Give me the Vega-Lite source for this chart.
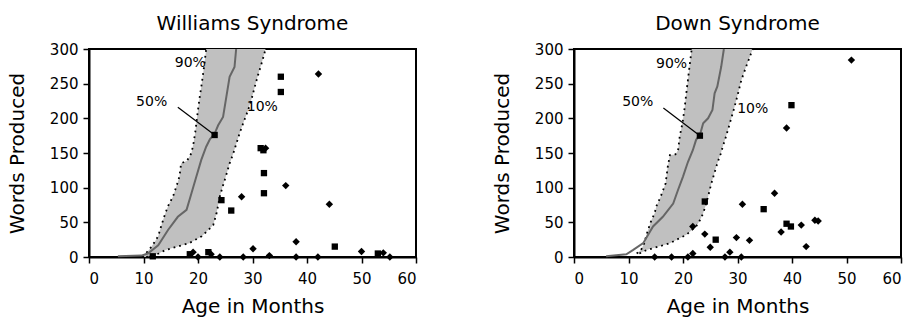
{
  "$schema": "https://vega.github.io/schema/vega-lite/v6.json",
  "background": "white",
  "padding": {"left": 6, "top": 13, "right": 8, "bottom": 4},
  "spacing": 73,
  "config": {
    "view": {"stroke": "black", "strokeWidth": 2},
    "font": "DejaVu Sans",
    "axis": {"grid": false, "domainColor": "black", "domainWidth": 2, "tickColor": "black", "tickWidth": 1.5, "tickSize": 6, "labelFont": "DejaVu Sans", "labelFontSize": 15, "labelColor": "black", "titleFont": "DejaVu Sans", "titleFontSize": 20, "titleFontWeight": "normal", "titleColor": "black", "labelPadding": 5},
    "axisX": {"titlePadding": 10, "labelPadding": 8},
    "axisY": {"titlePadding": 22},
    "title": {"font": "DejaVu Sans", "fontSize": 20, "fontWeight": "normal", "color": "black", "offset": 8}
  },
  "datasets": {
    "ws_band": [
      {"words": 0, "age": 9.8, "age2": 10.5}, {"words": 5, "age": 10.4, "age2": 12.8}, {"words": 10, "age": 11.0, "age2": 14.0},
      {"words": 20, "age": 11.9, "age2": 18.4}, {"words": 30, "age": 12.7, "age2": 20.7}, {"words": 46, "age": 13.3, "age2": 22.8},
      {"words": 63, "age": 14.0, "age2": 23.4}, {"words": 75, "age": 14.6, "age2": 23.7}, {"words": 87, "age": 15.4, "age2": 24.0},
      {"words": 101, "age": 16.0, "age2": 24.5}, {"words": 116, "age": 16.6, "age2": 25.1}, {"words": 135, "age": 16.9, "age2": 25.8},
      {"words": 139, "age": 18.0, "age2": 26.0}, {"words": 150, "age": 18.8, "age2": 26.5}, {"words": 165, "age": 19.2, "age2": 27.1},
      {"words": 180, "age": 19.5, "age2": 27.7}, {"words": 193, "age": 19.7, "age2": 28.3}, {"words": 212, "age": 20.0, "age2": 29.2},
      {"words": 230, "age": 20.3, "age2": 29.9}, {"words": 245, "age": 20.6, "age2": 30.4}, {"words": 262, "age": 20.9, "age2": 31.0},
      {"words": 280, "age": 21.2, "age2": 31.7}, {"words": 300, "age": 21.5, "age2": 32.4}
    ],
    "ws_median": [
      {"age": 5.3, "words": 1}, {"age": 9.6, "words": 2}, {"age": 10.8, "words": 5}, {"age": 12.7, "words": 17},
      {"age": 14.5, "words": 39}, {"age": 16.3, "words": 58}, {"age": 17.9, "words": 68}, {"age": 18.8, "words": 92},
      {"age": 19.7, "words": 116}, {"age": 20.6, "words": 140}, {"age": 21.5, "words": 159}, {"age": 22.2, "words": 170},
      {"age": 23.0, "words": 177}, {"age": 23.7, "words": 190}, {"age": 24.6, "words": 202}, {"age": 25.2, "words": 231},
      {"age": 25.8, "words": 260}, {"age": 26.7, "words": 274}, {"age": 27.0, "words": 300}
    ],
    "ws_labels": [
      {"age": 18.6, "words": 280, "label": "90%"}, {"age": 11.5, "words": 223, "label": "50%"}, {"age": 31.8, "words": 217, "label": "10%"}
    ],
    "ws_arrow": [{"age": 16.3, "words": 216, "age2": 23.05, "words2": 176}],
    "ws_points": [
      {"age": 23.05, "words": 176, "type": "square"},
      {"age": 11.7, "words": 1, "type": "square"}, {"age": 18.5, "words": 4, "type": "square"}, {"age": 19.1, "words": 7, "type": "diamond"},
      {"age": 20, "words": 0, "type": "diamond"}, {"age": 21.9, "words": 7, "type": "square"}, {"age": 22.4, "words": 4, "type": "diamond"},
      {"age": 24, "words": 0, "type": "diamond"}, {"age": 24.3, "words": 82, "type": "square"}, {"age": 26.1, "words": 67, "type": "square"},
      {"age": 28, "words": 87, "type": "diamond"}, {"age": 28.3, "words": 0, "type": "diamond"}, {"age": 30.1, "words": 12, "type": "diamond"},
      {"age": 31.5, "words": 157, "type": "square"}, {"age": 32, "words": 154, "type": "square"}, {"age": 32.4, "words": 157, "type": "diamond"},
      {"age": 32.1, "words": 121, "type": "square"}, {"age": 32.1, "words": 92, "type": "square"}, {"age": 33.1, "words": 2, "type": "diamond"},
      {"age": 35.2, "words": 260, "type": "square"}, {"age": 35.2, "words": 238, "type": "square"}, {"age": 36.1, "words": 103, "type": "diamond"},
      {"age": 38, "words": 22, "type": "diamond"}, {"age": 38, "words": 0, "type": "diamond"}, {"age": 42, "words": 0, "type": "diamond"},
      {"age": 42.1, "words": 264, "type": "diamond"}, {"age": 44.1, "words": 76, "type": "diamond"}, {"age": 45.1, "words": 15, "type": "square"},
      {"age": 50, "words": 8, "type": "diamond"}, {"age": 53, "words": 5, "type": "square"}, {"age": 54, "words": 6, "type": "diamond"},
      {"age": 55.2, "words": 0, "type": "diamond"}
    ],
    "ds_band": [
      {"words": 5, "age": 11.5, "age2": 12.0}, {"words": 10, "age": 12.3, "age2": 13.3}, {"words": 15, "age": 12.6, "age2": 15.5},
      {"words": 20, "age": 12.9, "age2": 17.6}, {"words": 32, "age": 13.3, "age2": 20.6}, {"words": 44, "age": 13.8, "age2": 22.4},
      {"words": 53, "age": 14.2, "age2": 23.1}, {"words": 63, "age": 14.8, "age2": 23.7}, {"words": 73, "age": 15.1, "age2": 24.1},
      {"words": 87, "age": 15.9, "age2": 24.6}, {"words": 106, "age": 16.8, "age2": 25.2}, {"words": 130, "age": 17.2, "age2": 26.1},
      {"words": 147, "age": 17.6, "age2": 26.8}, {"words": 148, "age": 18.6, "age2": 26.9}, {"words": 154, "age": 19.1, "age2": 27.1},
      {"words": 174, "age": 19.4, "age2": 27.9}, {"words": 193, "age": 19.9, "age2": 28.6}, {"words": 215, "age": 20.3, "age2": 29.4},
      {"words": 236, "age": 20.6, "age2": 30.1}, {"words": 255, "age": 20.9, "age2": 30.7}, {"words": 275, "age": 21.2, "age2": 31.6},
      {"words": 300, "age": 21.6, "age2": 32.8}
    ],
    "ds_median": [
      {"age": 5.9, "words": 1}, {"age": 9.6, "words": 4}, {"age": 10.8, "words": 10}, {"age": 12.7, "words": 20},
      {"age": 14.5, "words": 44}, {"age": 16.3, "words": 58}, {"age": 18.2, "words": 77}, {"age": 19.1, "words": 97},
      {"age": 20.0, "words": 116}, {"age": 20.9, "words": 137}, {"age": 21.8, "words": 154}, {"age": 22.4, "words": 169},
      {"age": 23.1, "words": 176}, {"age": 23.7, "words": 193}, {"age": 24.6, "words": 200}, {"age": 25.4, "words": 212},
      {"age": 25.8, "words": 236}, {"age": 26.3, "words": 246}, {"age": 27.0, "words": 274}, {"age": 27.5, "words": 300}
    ],
    "ds_labels": [
      {"age": 17.9, "words": 279, "label": "90%"}, {"age": 11.7, "words": 223, "label": "50%"}, {"age": 32.8, "words": 214, "label": "10%"}
    ],
    "ds_arrow": [{"age": 16.4, "words": 215, "age2": 23.1, "words2": 175}],
    "ds_points": [
      {"age": 23.1, "words": 175, "type": "square"},
      {"age": 14.8, "words": 0, "type": "diamond"}, {"age": 17.9, "words": 0, "type": "diamond"}, {"age": 20.9, "words": 0, "type": "diamond"},
      {"age": 21.8, "words": 5, "type": "diamond"}, {"age": 27.7, "words": 0, "type": "diamond"}, {"age": 28.6, "words": 7, "type": "diamond"},
      {"age": 30.7, "words": 0, "type": "diamond"}, {"age": 21.8, "words": 44, "type": "diamond"}, {"age": 24, "words": 33, "type": "diamond"},
      {"age": 26, "words": 25, "type": "square"}, {"age": 25, "words": 14, "type": "diamond"}, {"age": 24, "words": 80, "type": "square"},
      {"age": 29.8, "words": 28, "type": "diamond"}, {"age": 32.2, "words": 24, "type": "diamond"}, {"age": 30.9, "words": 76, "type": "diamond"},
      {"age": 34.8, "words": 69, "type": "square"}, {"age": 36.8, "words": 92, "type": "diamond"}, {"age": 38, "words": 36, "type": "diamond"},
      {"age": 39, "words": 48, "type": "square"}, {"age": 39.8, "words": 44, "type": "square"}, {"age": 41.7, "words": 46, "type": "diamond"},
      {"age": 44.2, "words": 53, "type": "diamond"}, {"age": 44.8, "words": 52, "type": "diamond"}, {"age": 42.6, "words": 15, "type": "diamond"},
      {"age": 39, "words": 186, "type": "diamond"}, {"age": 39.9, "words": 219, "type": "square"}, {"age": 50.9, "words": 284, "type": "diamond"}
    ]
  },
  "hconcat": [
    {
      "width": 327, "height": 208,
      "title": "Williams Syndrome",
      "encoding": {
        "x": {"field": "age", "type": "quantitative", "title": "Age in Months", "scale": {"domain": [0, 60], "nice": false}, "axis": {"values": [0, 10, 20, 30, 40, 50, 60]}},
        "y": {"field": "words", "type": "quantitative", "title": "Words Produced", "scale": {"domain": [0, 300], "nice": false}, "axis": {"values": [0, 50, 100, 150, 200, 250, 300]}}
      },
      "layer": [
        {"data": {"name": "ws_band"}, "mark": {"type": "area", "orient": "horizontal", "color": "#c0c0c0"}, "encoding": {"x2": {"field": "age2"}}},
        {"data": {"name": "ws_band"}, "mark": {"type": "line", "color": "black", "strokeWidth": 1.8, "strokeDash": [1.8, 4], "strokeCap": "butt"}, "encoding": {"order": {"field": "words", "type": "quantitative"}}},
        {"data": {"name": "ws_band"}, "mark": {"type": "line", "color": "black", "strokeWidth": 1.8, "strokeDash": [1.8, 4], "strokeCap": "butt"}, "encoding": {"x": {"field": "age2", "type": "quantitative", "title": "Age in Months", "scale": {"domain": [0, 60], "nice": false}}, "order": {"field": "words", "type": "quantitative"}}},
        {"data": {"name": "ws_median"}, "mark": {"type": "line", "color": "#666666", "strokeWidth": 2}, "encoding": {"order": {"field": "words", "type": "quantitative"}}},
        {"data": {"name": "ws_arrow"}, "mark": {"type": "rule", "color": "black", "strokeWidth": 1.2}, "encoding": {"x2": {"field": "age2"}, "y2": {"field": "words2"}}},
        {"data": {"name": "ws_labels"}, "mark": {"type": "text", "font": "DejaVu Sans", "fontSize": 14, "color": "black"}, "encoding": {"text": {"field": "label"}}},
        {"data": {"name": "ws_points"}, "mark": {"type": "point", "filled": true, "color": "black", "opacity": 1},
         "encoding": {"shape": {"field": "type", "type": "nominal", "scale": {"domain": ["square", "diamond"], "range": ["square", "diamond"]}, "legend": null},
                      "size": {"field": "type", "type": "nominal", "scale": {"domain": ["square", "diamond"], "range": [40, 55]}, "legend": null}}}
      ]
    },
    {
      "width": 327, "height": 208,
      "title": "Down Syndrome",
      "encoding": {
        "x": {"field": "age", "type": "quantitative", "title": "Age in Months", "scale": {"domain": [0, 60], "nice": false}, "axis": {"values": [0, 10, 20, 30, 40, 50, 60]}},
        "y": {"field": "words", "type": "quantitative", "title": "Words Produced", "scale": {"domain": [0, 300], "nice": false}, "axis": {"values": [0, 50, 100, 150, 200, 250, 300]}}
      },
      "layer": [
        {"data": {"name": "ds_band"}, "mark": {"type": "area", "orient": "horizontal", "color": "#c0c0c0"}, "encoding": {"x2": {"field": "age2"}}},
        {"data": {"name": "ds_band"}, "mark": {"type": "line", "color": "black", "strokeWidth": 1.8, "strokeDash": [1.8, 4], "strokeCap": "butt"}, "encoding": {"order": {"field": "words", "type": "quantitative"}}},
        {"data": {"name": "ds_band"}, "mark": {"type": "line", "color": "black", "strokeWidth": 1.8, "strokeDash": [1.8, 4], "strokeCap": "butt"}, "encoding": {"x": {"field": "age2", "type": "quantitative", "title": "Age in Months", "scale": {"domain": [0, 60], "nice": false}}, "order": {"field": "words", "type": "quantitative"}}},
        {"data": {"name": "ds_median"}, "mark": {"type": "line", "color": "#666666", "strokeWidth": 2}, "encoding": {"order": {"field": "words", "type": "quantitative"}}},
        {"data": {"name": "ds_arrow"}, "mark": {"type": "rule", "color": "black", "strokeWidth": 1.2}, "encoding": {"x2": {"field": "age2"}, "y2": {"field": "words2"}}},
        {"data": {"name": "ds_labels"}, "mark": {"type": "text", "font": "DejaVu Sans", "fontSize": 14, "color": "black"}, "encoding": {"text": {"field": "label"}}},
        {"data": {"name": "ds_points"}, "mark": {"type": "point", "filled": true, "color": "black", "opacity": 1},
         "encoding": {"shape": {"field": "type", "type": "nominal", "scale": {"domain": ["square", "diamond"], "range": ["square", "diamond"]}, "legend": null},
                      "size": {"field": "type", "type": "nominal", "scale": {"domain": ["square", "diamond"], "range": [40, 55]}, "legend": null}}}
      ]
    }
  ]
}
